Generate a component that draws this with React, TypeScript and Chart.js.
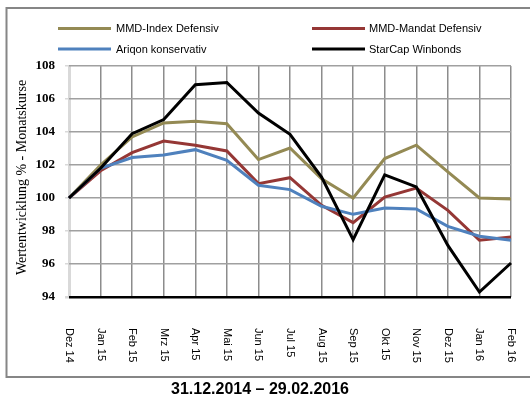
import React, { useEffect, useRef } from "react";
import { Chart, registerables } from "chart.js";

Chart.register(...registerables);

const categories = ["Dez 14", "Jan 15", "Feb 15", "Mrz 15", "Apr 15", "Mai 15", "Jun 15", "Jul 15", "Aug 15", "Sep 15", "Okt 15", "Nov 15", "Dez 15", "Jan 16", "Feb 16"];
const mmdIndex = [100, 102.0, 103.7, 104.55, 104.65, 104.5, 102.33, 103.03, 101.17, 100.0, 102.39, 103.2, 101.58, 100.0, 99.94];
const mmdMandat = [100, 101.65, 102.75, 103.45, 103.2, 102.85, 100.87, 101.23, 99.56, 98.51, 100.06, 100.6, 99.25, 97.44, 97.64];
const ariqon = [100, 101.8, 102.45, 102.6, 102.93, 102.28, 100.77, 100.51, 99.5, 99.01, 99.39, 99.33, 98.28, 97.68, 97.44];
const starCap = [100, 101.8, 103.9, 104.75, 106.87, 107.0, 105.15, 103.86, 101.27, 97.48, 101.4, 100.67, 97.13, 94.3, 96.06];
const seriesNames = ["MMD-Index Defensiv", "MMD-Mandat Defensiv", "Ariqon konservativ", "StarCap Winbonds"];
const seriesColors = ["#948A54", "#953735", "#4F81BD", "#000000"];
const yTitle = "Wertentwicklung % - Monatskurse";
const periodTitle = "31.12.2014 – 29.02.2016";

const SANS = "'Liberation Sans', Arial, sans-serif";
const SERIF = "'Liberation Serif', 'Times New Roman', serif";

const decorPlugin = {
  id: "decor",
  beforeDraw(chart: any) {
    const ctx = chart.ctx;
    ctx.save();
    ctx.strokeStyle = "#868686";
    ctx.lineWidth = 2;
    ctx.strokeRect(6.5, 8, 540, 369);
    ctx.restore();
  },
  afterDraw(chart: any) {
    const ctx = chart.ctx;
    const xs = chart.scales.x;
    ctx.save();
    // x labels rotated clockwise
    ctx.fillStyle = "#000";
    ctx.font = "11px " + SANS;
    ctx.textAlign = "left";
    ctx.textBaseline = "middle";
    categories.forEach((lab, i) => {
      const x = xs.getPixelForValue(i);
      ctx.save();
      ctx.translate(x, 328);
      ctx.rotate(Math.PI / 2);
      ctx.fillText(lab, 0, 0);
      ctx.restore();
    });
    // y axis title
    ctx.save();
    ctx.font = "14px " + SERIF;
    ctx.textAlign = "center";
    ctx.textBaseline = "middle";
    ctx.translate(22.7, 177.5);
    ctx.rotate(-Math.PI / 2);
    ctx.fillText(yTitle, 0, 0);
    ctx.restore();
    // legend
    const pos = [
      { lx: 58, tx: 116, y: 28.5 },
      { lx: 312, tx: 369, y: 28.5 },
      { lx: 58, tx: 116, y: 49 },
      { lx: 312, tx: 369, y: 49 },
    ];
    ctx.font = "11px " + SANS;
    ctx.textAlign = "left";
    ctx.textBaseline = "middle";
    chart.data.datasets.forEach((ds: any, i: number) => {
      const p = pos[i];
      ctx.strokeStyle = ds.borderColor;
      ctx.lineWidth = 3;
      ctx.beginPath();
      ctx.moveTo(p.lx, p.y);
      ctx.lineTo(p.lx + 53, p.y);
      ctx.stroke();
      ctx.fillStyle = "#000";
      ctx.fillText(ds.label, p.tx, p.y + 0.5);
    });
    // bottom title
    ctx.font = "bold 16px " + SANS;
    ctx.textAlign = "center";
    ctx.fillStyle = "#000";
    ctx.fillText(periodTitle, 260, 390);
    ctx.restore();
  },
};

export default function App() {
  const ref = useRef<HTMLCanvasElement | null>(null);
  useEffect(() => {
    if (!ref.current) return;
    const values = [mmdIndex, mmdMandat, ariqon, starCap];
    const orders = [3, 2, 1, 0];
    const chart = new Chart(ref.current, {
      type: "line",
      data: {
        labels: categories,
        datasets: values.map((v, i) => ({
          label: seriesNames[i],
          data: v,
          borderColor: seriesColors[i],
          backgroundColor: seriesColors[i],
          borderWidth: 3,
          pointRadius: 0,
          tension: 0,
          fill: false,
          order: orders[i],
        })),
      },
      options: {
        responsive: false,
        animation: false,
        layout: { padding: { left: 0, top: 66, right: 19, bottom: 0 } },
        plugins: { legend: { display: false }, tooltip: { enabled: false }, title: { display: false } },
        scales: {
          x: {
            type: "category",
            offset: false,
            ticks: { display: false },
            border: { display: false },
            grid: {
              drawTicks: false,
              color: (c: any) => (c.index === 0 ? "#d9d9d9" : "#8c8c8c"),
              lineWidth: (c: any) => (c.index === 0 ? 3 : 1.5),
            },
            afterFit: (s: any) => {
              s.height = 103;
            },
          },
          y: {
            min: 94,
            max: 108,
            border: { display: false },
            ticks: {
              stepSize: 2,
              color: "#000",
              padding: 10,
              font: { family: SERIF, weight: "bold", size: 13 },
            },
            grid: {
              tickLength: 4,
              tickColor: "#d9d9d9",
              color: (c: any) => (c.tick && c.tick.value === 94 ? "#000000" : "#a0a0a0"),
              lineWidth: (c: any) => (c.tick && c.tick.value === 94 ? 2.5 : 1.5),
            },
            afterFit: (s: any) => {
              s.width = 69;
            },
          },
        },
      },
      plugins: [decorPlugin],
    } as any);
    return () => chart.destroy();
  }, []);
  return (
    <div style={{ position: "absolute", left: 0, top: 0, width: 530, height: 400, background: "#fff" }}>
      <canvas ref={ref} width={530} height={400} style={{ display: "block" }} />
    </div>
  );
}
